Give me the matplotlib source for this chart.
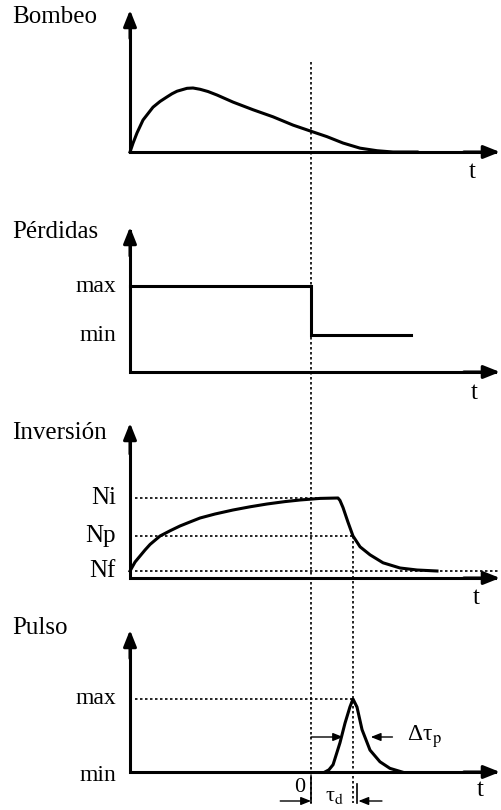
import matplotlib
matplotlib.use("Agg")
import matplotlib.pyplot as plt

# --- datos (t en unidades arbitrarias, 0 = conmutación de Q) ---
bombeo_t = [-10.0, -9.83, -9.61, -9.28, -9.06, -8.73, -8.34, -7.96, -7.68, -7.40, -6.85,
            -6.52, -6.13, -5.69, -5.19, -4.31, -3.20, -2.10, -0.99, -0.06, 0.88, 1.77,
            2.71, 3.65, 4.53, 5.86]
bombeo_v = [0.0, 0.14, 0.30, 0.50, 0.58, 0.70, 0.79, 0.86, 0.91, 0.95, 0.995,
            1.0, 0.98, 0.945, 0.89, 0.78, 0.66, 0.55, 0.42, 0.33, 0.24, 0.14,
            0.06, 0.02, 0.0, 0.0]

perdidas_t = [-10.0, 0.0, 0.0, 5.52]
perdidas_v = [2.0, 2.0, 0.86, 0.86]
perdidas_max, perdidas_min = 2.0, 0.86

inv_t = [-10.0, -9.72, -9.17, -8.89, -8.34, -7.79, -7.24, -6.69, -6.13, -5.30, -4.31,
         -3.37, -2.43, -1.44, -0.61, 0.5, 1.49, 1.6, 1.77, 2.04, 2.32, 2.71, 3.26,
         3.98, 4.92, 5.86, 6.96]
inv_v = [0.0875, 0.2, 0.35, 0.42, 0.525, 0.59, 0.65, 0.70, 0.75, 0.80, 0.85,
         0.89, 0.925, 0.955, 0.975, 0.995, 1.0, 0.97, 0.88, 0.70, 0.525, 0.39, 0.29,
         0.19, 0.125, 0.10, 0.0875]
Ni, Np, Nf = 1.0, 0.525, 0.0875

pulso_t = [0.77, 0.99, 1.22, 1.6, 1.88, 2.15, 2.32, 2.54, 2.82, 3.26, 3.81, 4.36, 5.03]
pulso_v = [0.0, 0.03, 0.10, 0.40, 0.67, 0.89, 1.0, 0.89, 0.58, 0.30, 0.14, 0.05, 0.0]
pulso_max = 1.0
t_pico = 2.32
t_izq, t_der = 1.77, 3.30   # anchura a media altura

t_origen, t_fin = -10.0, 10.44

plt.rcParams['font.family'] = ['Liberation Serif', 'DejaVu Serif']
plt.rcParams['mathtext.fontset'] = 'stix'

W, H = 501, 810
PX = 18.1  # pixeles por unidad de t
fig = plt.figure(figsize=(W / 100, H / 100), dpi=100)
XLIM = (-311 / PX, (W - 311) / PX)
FS = 18
LW = 2.2
DOT = dict(color='k', lw=1.2, ls=(0, (1.5, 1.5)), clip_on=False)
HEAD = dict(arrowstyle='-|>,head_length=0.7,head_width=0.28', color='k',
            lw=LW, shrinkA=0, shrinkB=0, mutation_scale=14)


def panel(y0, ytip, k, titulo, ty):
    ax = fig.add_axes([0, (H - y0) / H, 1, (y0 - ytip) / H])
    ax.set_xlim(XLIM)
    top = (y0 - ytip) / k
    ax.set_ylim(0, top)
    ax.axis('off')
    ax.plot([t_origen, t_origen, t_fin - 0.3], [top - 0.1, 0, 0], color='k', lw=LW,
            solid_joinstyle='miter', clip_on=False)
    ax.annotate('', xy=(t_origen, top), xytext=(t_origen, top * 0.8), arrowprops=HEAD,
                annotation_clip=False)
    ax.annotate('', xy=(t_fin, 0), xytext=(t_fin - 2, 0), arrowprops=HEAD,
                annotation_clip=False)
    fig.text(12 / W, 1 - ty / H, titulo, fontsize=FS, va='center', ha='left')
    return ax


def tlabel(px, py):
    fig.text(px / W, 1 - py / H, 't', fontsize=FS, ha='center', va='center')


lab_x = (116 - 311) / PX
dot_x0 = (135 - 311) / PX

# Bombeo
ax1 = panel(152, 10, 64, 'Bombeo', 17)
ax1.plot(bombeo_t, bombeo_v, color='k', lw=LW, solid_joinstyle='round', clip_on=False)
tlabel(472, 172)

# Pérdidas
ax2 = panel(372, 227, 43, 'Pérdidas', 232)
ax2.plot(perdidas_t, perdidas_v, color='k', lw=LW, solid_joinstyle='miter', clip_on=False)
ax2.text(lab_x, perdidas_max, 'max', fontsize=FS - 1, ha='right', va='center')
ax2.text(lab_x, perdidas_min, 'min', fontsize=FS - 1, ha='right', va='center')
tlabel(474, 393)

# Inversión
ax3 = panel(578, 423, 80, 'Inversión', 433)
ax3.plot([dot_x0, inv_t[16]], [Ni, Ni], **DOT)
ax3.plot([dot_x0, t_pico], [Np, Np], **DOT)
ax3.plot([dot_x0, t_fin], [Nf, Nf], **DOT)
ax3.plot(inv_t, inv_v, color='k', lw=LW, solid_joinstyle='round', clip_on=False)
for nombre, nivel in [('Ni', Ni), ('Np', Np), ('Nf', Nf)]:
    ax3.text(lab_x, nivel, nombre, fontsize=FS, ha='right', va='center')
tlabel(476, 598)

# Pulso
k4 = 73
ax4 = panel(772, 630, k4, 'Pulso', 628)
ax4.plot([dot_x0, t_pico], [pulso_max, pulso_max], **DOT)
ax4.plot(pulso_t, pulso_v, color='k', lw=LW, solid_joinstyle='round', clip_on=False)
ax4.text(lab_x, pulso_max, 'max', fontsize=FS - 1, ha='right', va='center')
ax4.text(lab_x, -0.05, 'min', fontsize=FS - 1, ha='right', va='center')
tlabel(480, 790)

# líneas verticales punteadas (t = 0 y pico del pulso)
ax4.plot([0, 0], [(772 - 62) / k4, (772 - 803) / k4], **DOT)
ax4.plot([t_pico, t_pico], [(772 - 536) / k4, (772 - 803) / k4], **DOT)

# anchura del pulso
small = dict(arrowstyle='-|>,head_length=0.5,head_width=0.2', color='k', lw=1.0,
             shrinkA=0, shrinkB=0, mutation_scale=12)
y_half = (772 - 737) / k4
ax4.annotate('', xy=(t_izq, y_half), xytext=(0, y_half), arrowprops=small,
             annotation_clip=False)
ax4.annotate('', xy=(t_der, y_half), xytext=(t_der + 1.2, y_half), arrowprops=small,
             annotation_clip=False)
ax4.text(t_der + 2.0, y_half, r'Δτ$_{\rm p}$', fontsize=FS - 1, ha='left', va='center')

# retardo tau_d
y_bot = (772 - 801) / k4
ax4.plot([0, 0], [(772 - 776) / k4, (772 - 803) / k4], color='k', lw=1.2, clip_on=False)
ax4.plot([t_pico + 0.2, t_pico + 0.2], [(772 - 784) / k4, (772 - 803) / k4], color='k',
         lw=1.2, clip_on=False)
ax4.annotate('', xy=(0, y_bot), xytext=(-1.7, y_bot), arrowprops=small,
             annotation_clip=False)
ax4.annotate('', xy=(t_pico + 0.3, y_bot), xytext=(t_pico + 1.6, y_bot), arrowprops=small,
             annotation_clip=False)
ax4.text(1.3, (772 - 797) / k4, r'τ$_{\rm d}$', fontsize=FS - 2, ha='center', va='center')
ax4.text(-0.6, (772 - 787) / k4, '0', fontsize=FS - 2, ha='center', va='center')

fig.savefig('out.png', dpi=100)
